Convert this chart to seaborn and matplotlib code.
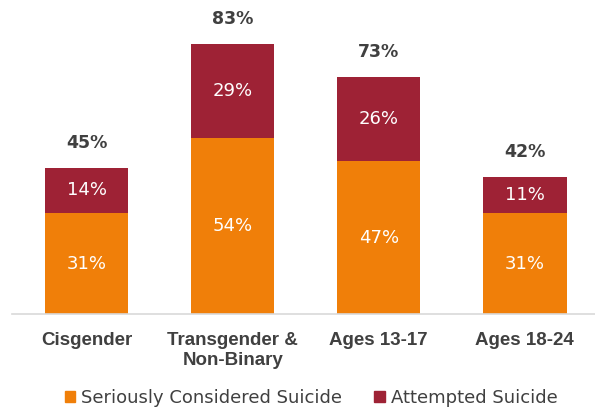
import pandas as pd
import seaborn as sns
import matplotlib.pyplot as plt
from matplotlib.patches import Patch

# data
groups = ['Cisgender', 'Transgender &\nNon-Binary', 'Ages 13-17', 'Ages 18-24']
considered = [31, 54, 47, 31]
attempted = [14, 29, 26, 11]
totals = [45, 83, 73, 42]

orange = '#F07F09'
red = '#9E2235'
dark = '#404040'

df = pd.DataFrame({'group': groups, 'considered': considered,
                   'attempted': attempted, 'total': totals})

sns.set_style('white')

fig = plt.figure(figsize=(5.95, 4.09), dpi=100)
ax = fig.add_axes([12 / 595, 95 / 409, 583 / 595, 304 / 409])

# stacked bars: draw the totals in red, then the lower part in orange over it
sns.barplot(data=df, x='group', y='total', color=red, width=0.57,
            saturation=1, linewidth=0, ax=ax)
sns.barplot(data=df, x='group', y='considered', color=orange, width=0.57,
            saturation=1, linewidth=0, ax=ax)

ax.set_xlim(-0.51, 3.48)
ax.set_ylim(0, 93.5)

for i, row in df.iterrows():
    ax.text(i, row['considered'] / 2, f"{row['considered']}%", ha='center',
            va='center', color='white', fontsize=13)
    ax.text(i, row['considered'] + row['attempted'] / 2,
            f"{row['attempted']}%", ha='center', va='center', color='white',
            fontsize=13)
    ax.annotate(f"{row['total']}%", (i, row['total']), xytext=(0, 18),
                textcoords='offset points', ha='center', va='center',
                color=dark, fontsize=12.5, fontweight='bold')

ax.set_xlabel('')
ax.set_ylabel('')
ax.set_yticks([])
ax.tick_params(axis='x', length=0, pad=13)
for lab in ax.get_xticklabels():
    lab.set_fontfamily(['Liberation Sans', 'DejaVu Sans'])
    lab.set_fontweight('bold')
    lab.set_fontsize(13.5)
    lab.set_color(dark)
    lab.set_linespacing(1.25)

for s in ['top', 'right', 'left']:
    ax.spines[s].set_visible(False)
ax.spines['bottom'].set_color('#d9d9d9')
ax.spines['bottom'].set_linewidth(1.2)

handles = [Patch(color=orange, label='Seriously Considered Suicide'),
           Patch(color=red, label='Attempted Suicide')]
fig.legend(handles=handles, loc='center', bbox_to_anchor=(311 / 595, 11 / 409),
           ncol=2, frameon=False, fontsize=13, handlelength=0.6,
           handleheight=0.6, handletextpad=0.3, columnspacing=1.8,
           labelcolor=dark)

fig.savefig('out.png', dpi=100)
